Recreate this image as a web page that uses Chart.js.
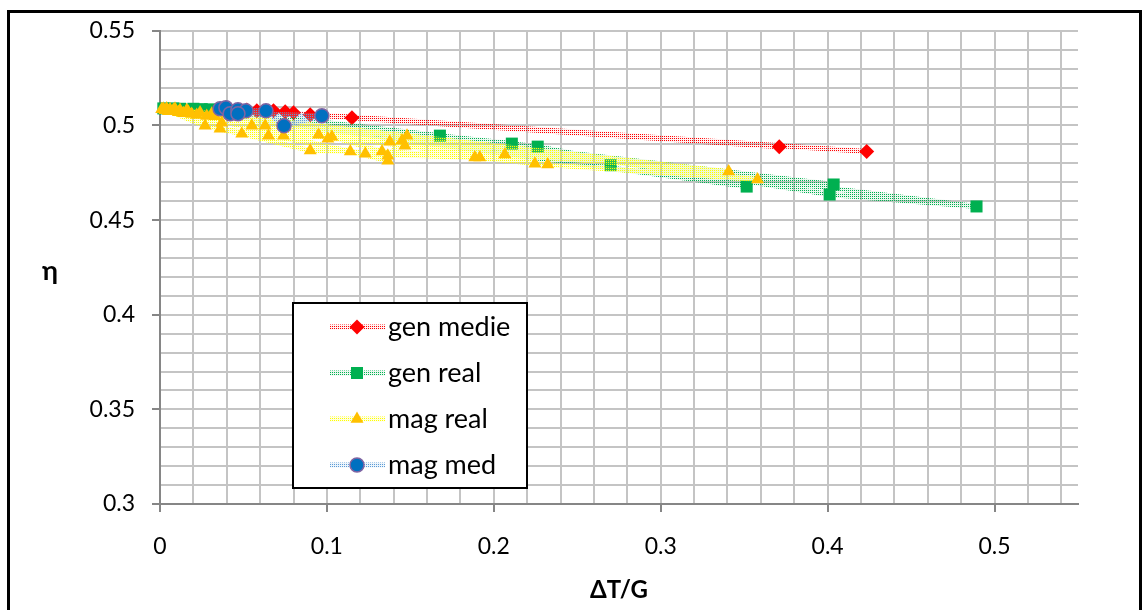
<!DOCTYPE html>
<html>
<head>
<meta charset="utf-8">
<script src="https://cdn.jsdelivr.net/npm/chart.js@4.4.1/dist/chart.umd.min.js"></script>
<style>
  html, body { margin: 0; padding: 0; background: #fff; }
  #wrap { position: relative; width: 1144px; height: 610px; overflow: hidden; }
  #frame { position: absolute; left: 7px; top: 10px; width: 1129px; height: 700px; border: 3px solid #000; pointer-events: none; }
</style>
</head>
<body>
<div id="wrap">
  <canvas id="chart" width="1144" height="610"></canvas>
  <div id="frame"></div>
</div>
<script>
// series names
const seriesNames = ['gen medie', 'gen real', 'mag real', 'mag med'];

// gen medie (red diamonds)
const genMedieX = [0.040, 0.052, 0.068, 0.075, 0.080, 0.090, 0.115, 0.371, 0.058, 0.4234];
const genMedieY = [0.5086, 0.5082, 0.5077, 0.5072, 0.5067, 0.5056, 0.5040, 0.4888, 0.5078, 0.4862];

// gen real (green squares)
const genRealX = [0.002, 0.012, 0.030, 0.1677, 0.2263, 0.3515, 0.008, 0.2108, 0.4012, 0.4892, 0.020, 0.4036, 0.025, 0.270];
const genRealY = [0.5090, 0.5088, 0.5085, 0.4946, 0.4888, 0.4677, 0.5090, 0.4904, 0.4635, 0.4572, 0.5088, 0.4688, 0.5086, 0.4790];

// mag real (orange triangles)
const magRealX = [
  0.001, 0.003, 0.005, 0.008, 0.011, 0.014, 0.017, 0.019, 0.022, 0.024, 0.028, 0.031, 0.033,
  0.002, 0.027, 0.049, 0.090, 0.114, 0.1365,
  0.004, 0.037, 0.075, 0.1006, 0.145, 0.2066, 0.3407,
  0.006, 0.036, 0.065, 0.123, 0.1886, 0.2323,
  0.009, 0.055, 0.095, 0.1467, 0.2246, 0.358,
  0.012, 0.063, 0.074, 0.103, 0.133, 0.1916,
  0.016, 0.1377, 0.148, 0.1365
];
const magRealY = [
  0.5085, 0.5080, 0.5075, 0.5082, 0.5070, 0.5065, 0.5072, 0.5060, 0.5055, 0.5068, 0.5050, 0.5062, 0.5048,
  0.5088, 0.4998, 0.4956, 0.4867, 0.4862, 0.4814,
  0.5090, 0.5014, 0.4993, 0.4930, 0.4920, 0.4846, 0.4756,
  0.5085, 0.4983, 0.4946, 0.4851, 0.4830, 0.4793,
  0.5088, 0.4998, 0.4951, 0.4893, 0.4798, 0.4714,
  0.5082, 0.4998, 0.4946, 0.4940, 0.4862, 0.4830,
  0.5080, 0.4914, 0.4946, 0.4840
];

// mag med (blue circles)
const magMedX = [0.036, 0.0395, 0.042, 0.0467, 0.0515, 0.0635, 0.0743, 0.097, 0.0467];
const magMedY = [0.5088, 0.5093, 0.5062, 0.5083, 0.5077, 0.5077, 0.4998, 0.5051, 0.5062];

// axis ranges
const xMin = 0, xMax = 0.55, xStep = 0.02, xLabelStep = 0.1;
const yMin = 0.3, yMax = 0.55, yStep = 0.01, yLabelStep = 0.05;

function toPoints(xs, ys) {
  return xs.map((x, i) => ({ x: x, y: ys[i] }));
}

function isMultiple(v, s) {
  return Math.abs(v / s - Math.round(v / s)) < 1e-6;
}

// textured line like the excel pattern fill
function texture(color, bg) {
  const c = document.createElement('canvas');
  c.width = 4; c.height = 4;
  const g = c.getContext('2d');
  g.fillStyle = bg;
  g.fillRect(0, 0, 4, 4);
  g.fillStyle = color;
  for (let i = 0; i < 4; i++) {
    for (let j = 0; j < 4; j++) {
      if ((i + j) % 2 === 0 && !(i % 2 === 1 && j % 2 === 1)) g.fillRect(i, j, 1, 1);
    }
  }
  return g.createPattern(c, 'repeat');
}

const redLine = texture('#FF0000', 'rgba(255,150,150,0.12)');
const greenLine = texture('#00B050', 'rgba(120,210,150,0.15)');
const yellowLine = texture('#FFFF00', 'rgba(250,250,90,0.2)');
const blueLine = texture('#5B9BD5', 'rgba(160,200,235,0.2)');

function drawMarker(ctx, style, x, y, r, fill, stroke, bw) {
  ctx.save();
  ctx.beginPath();
  if (style === 'rectRot') {
    ctx.moveTo(x - r, y); ctx.lineTo(x, y - r); ctx.lineTo(x + r, y); ctx.lineTo(x, y + r);
    ctx.closePath();
  } else if (style === 'rect') {
    const s = Math.SQRT1_2 * r;
    ctx.rect(x - s, y - s, 2 * s, 2 * s);
  } else if (style === 'triangle') {
    ctx.moveTo(x, y - r);
    ctx.lineTo(x + 0.866 * r, y + 0.5 * r);
    ctx.lineTo(x - 0.866 * r, y + 0.5 * r);
    ctx.closePath();
  } else {
    ctx.arc(x, y, r, 0, Math.PI * 2);
  }
  ctx.fillStyle = fill;
  ctx.fill();
  if (bw > 0) {
    ctx.lineWidth = bw;
    ctx.strokeStyle = stroke;
    ctx.stroke();
  }
  ctx.restore();
}

const overlayPlugin = {
  id: 'overlay',
  afterDraw(chart) {
    const ctx = chart.ctx;
    ctx.save();
    // y axis title, horizontal like excel
    ctx.fillStyle = '#000';
    ctx.font = 'bold 27px Lato';
    ctx.textAlign = 'center';
    ctx.textBaseline = 'alphabetic';
    ctx.fillText('\u03B7', 50, 280);

    // legend box
    const bx = 293, by = 303, bw = 234, bh = 185;
    ctx.fillStyle = '#fff';
    ctx.fillRect(bx, by, bw, bh);
    ctx.lineWidth = 2;
    ctx.strokeStyle = '#000';
    ctx.strokeRect(bx, by, bw, bh);

    chart.data.datasets.forEach((ds, i) => {
      const y = 327 + i * 46;
      ctx.save();
      ctx.strokeStyle = ds.borderColor;
      ctx.lineWidth = ds.borderWidth;
      ctx.beginPath();
      ctx.moveTo(330, y);
      ctx.lineTo(385, y);
      ctx.stroke();
      ctx.restore();
      drawMarker(ctx, ds.pointStyle, 357, y, ds.pointRadius, ds.pointBackgroundColor, ds.pointBorderColor, ds.pointBorderWidth);
      ctx.fillStyle = '#000';
      ctx.font = '27px Lato';
      ctx.textAlign = 'left';
      ctx.textBaseline = 'middle';
      ctx.fillText(ds.label, 388, y);
    });
    ctx.restore();
  }
};

document.addEventListener('DOMContentLoaded', () => {
  const ctx = document.getElementById('chart').getContext('2d');
  const chart = new Chart(ctx, {
    type: 'scatter',
    data: {
      datasets: [
        {
          label: seriesNames[0],
          data: toPoints(genMedieX, genMedieY),
          showLine: true,
          borderColor: redLine,
          borderWidth: 5,
          pointStyle: 'rectRot',
          pointRadius: 7.5,
          pointBackgroundColor: '#FF0000',
          pointBorderColor: '#FF0000',
          pointBorderWidth: 0,
          order: 4,
          clip: false
        },
        {
          label: seriesNames[1],
          data: toPoints(genRealX, genRealY),
          showLine: true,
          borderColor: greenLine,
          borderWidth: 5,
          pointStyle: 'rect',
          pointRadius: 8.5,
          pointBackgroundColor: '#00B050',
          pointBorderColor: '#00B050',
          pointBorderWidth: 0,
          order: 3,
          clip: false
        },
        {
          label: seriesNames[2],
          data: toPoints(magRealX, magRealY),
          showLine: true,
          borderColor: yellowLine,
          borderWidth: 5,
          pointStyle: 'triangle',
          pointRadius: 7.5,
          pointBackgroundColor: '#FFC000',
          pointBorderColor: '#FFC000',
          pointBorderWidth: 0,
          order: 2,
          clip: false
        },
        {
          label: seriesNames[3],
          data: toPoints(magMedX, magMedY),
          showLine: true,
          borderColor: blueLine,
          borderWidth: 5,
          pointStyle: 'circle',
          pointRadius: 7,
          pointBackgroundColor: '#0070C0',
          pointBorderColor: '#8064A2',
          pointBorderWidth: 1.5,
          order: 1,
          clip: false
        }
      ]
    },
    options: {
      responsive: false,
      animation: false,
      devicePixelRatio: 1,
      layout: { padding: { left: 0, top: 27, right: 66, bottom: 0 } },
      plugins: {
        legend: { display: false },
        tooltip: { enabled: false }
      },
      elements: { line: { tension: 0, borderJoinStyle: 'round', borderCapStyle: 'butt' } },
      scales: {
        x: {
          type: 'linear',
          min: xMin,
          max: xMax,
          afterFit: (scale) => { scale.height = 106; },
          grid: {
            color: '#C4C4C4',
            lineWidth: 2,
            tickLength: 8,
            tickColor: (c) => (c.tick && isMultiple(c.tick.value, xLabelStep)) ? '#868686' : 'rgba(0,0,0,0)',
            tickWidth: 2
          },
          border: { color: '#868686', width: 2 },
          ticks: {
            stepSize: xStep,
            includeBounds: false,
            autoSkip: false,
            maxRotation: 0,
            minRotation: 0,
            padding: 21,
            color: '#000',
            font: { family: 'Lato', size: 23 },
            callback: (v) => isMultiple(v, xLabelStep) ? String(+v.toFixed(2)) : ''
          },
          title: {
            display: true,
            text: '\u0394T/G',
            color: '#000',
            font: { family: 'Lato', size: 24, weight: 'bold' },
            padding: { top: 4, bottom: 5 }
          }
        },
        y: {
          type: 'linear',
          min: yMin,
          max: yMax,
          afterFit: (scale) => { scale.width = 160; },
          grid: {
            color: '#C4C4C4',
            lineWidth: 2,
            tickLength: 8,
            tickColor: (c) => (c.tick && isMultiple(c.tick.value, yLabelStep)) ? '#868686' : 'rgba(0,0,0,0)',
            tickWidth: 2
          },
          border: { color: '#868686', width: 2 },
          ticks: {
            stepSize: yStep,
            autoSkip: false,
            padding: 17,
            color: '#000',
            font: { family: 'Lato', size: 23 },
            callback: (v) => isMultiple(v, yLabelStep) ? String(+v.toFixed(2)) : ''
          }
        }
      }
    },
    plugins: [overlayPlugin]
  });
});
</script>
</body>
</html>
